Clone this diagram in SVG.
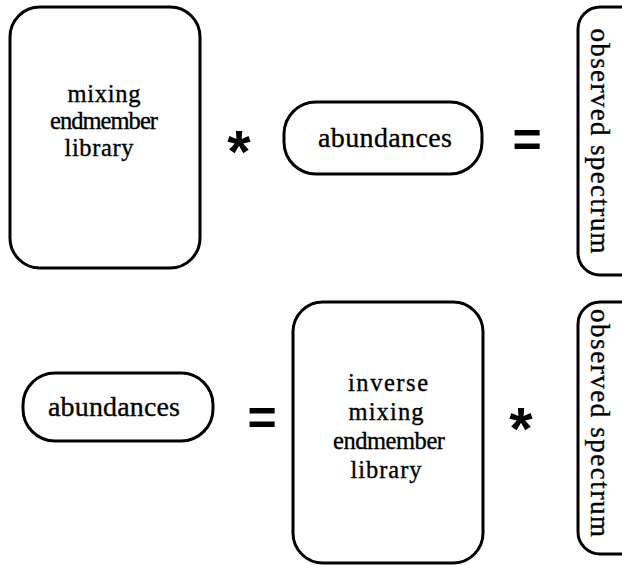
<svg xmlns="http://www.w3.org/2000/svg" width="622" height="565" viewBox="0 0 622 565">
<style>
.box{fill:none;stroke:#000;stroke-width:3}
.t{font-family:"Liberation Serif",serif;fill:#000;stroke:#000;stroke-width:0.35;text-anchor:middle}
.s{font-size:24.5px}
.a{font-size:28px}
.o{font-size:27px}
.op{font-family:"Liberation Sans",sans-serif;font-weight:bold;fill:#000;text-anchor:middle}
</style>
<rect width="622" height="565" fill="#fff"/>
<g id="mixing-library">
<rect class="box" x="10" y="7" width="190" height="261" rx="30"/>
<text class="t s" x="104" y="102" textLength="73" lengthAdjust="spacing">mixing</text>
<text class="t s" x="104" y="129" textLength="108" lengthAdjust="spacing">endmember</text>
<text class="t s" x="99" y="156" textLength="69" lengthAdjust="spacing">library</text>
</g>
<g id="abundances-top">
<rect class="box" x="284" y="102" width="198" height="72" rx="32"/>
<text class="t a" x="385" y="147" textLength="134" lengthAdjust="spacing">abundances</text>
</g>
<g id="spectrum-top">
<rect class="box" x="578" y="7" width="80" height="268" rx="22"/>
<text class="t o" transform="translate(591,141) rotate(90)" x="0" y="0" textLength="225" lengthAdjust="spacing">observed spectrum</text>
</g>
<g id="abundances-bottom">
<rect class="box" x="23" y="373" width="190" height="68" rx="32"/>
<text class="t a" x="114" y="416" textLength="132" lengthAdjust="spacing">abundances</text>
</g>
<g id="inverse-library">
<rect class="box" x="293" y="302" width="190" height="261" rx="30"/>
<text class="t s" x="388" y="391" textLength="80" lengthAdjust="spacing">inverse</text>
<text class="t s" x="386" y="420" textLength="75" lengthAdjust="spacing">mixing</text>
<text class="t s" x="389" y="449" textLength="112" lengthAdjust="spacing">endmember</text>
<text class="t s" x="386" y="478" textLength="71" lengthAdjust="spacing">library</text>
</g>
<g id="spectrum-bottom">
<rect class="box" x="578" y="302" width="80" height="252" rx="22"/>
<text class="t o" transform="translate(591,423) rotate(90)" x="0" y="0" textLength="228" lengthAdjust="spacing">observed spectrum</text>
</g>
<g id="operators">
<text class="op" x="239" y="172" font-size="60">*</text>
<text class="op" x="527" y="157" font-size="50">=</text>
<text class="op" x="262" y="435" font-size="50">=</text>
<text class="op" x="521" y="449" font-size="60">*</text>
</g>
</svg>
